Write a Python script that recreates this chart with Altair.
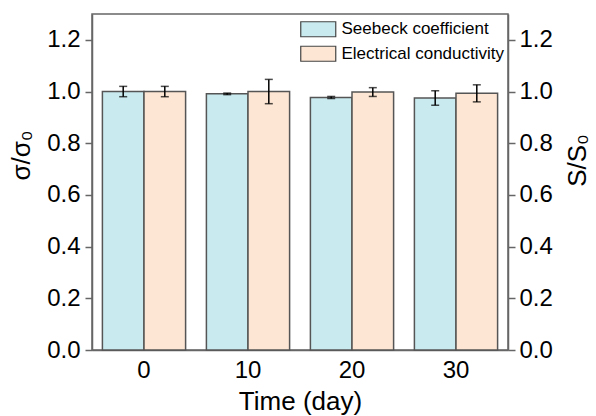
import altair as alt
import pandas as pd

times = ["0", "10", "20", "30"]
series = ["Seebeck coefficient", "Electrical conductivity"]
seebeck_vals = [1.000, 0.991, 0.977, 0.975]
seebeck_errs = [0.020, 0.003, 0.004, 0.028]
elec_vals = [1.000, 1.000, 0.998, 0.993]
elec_errs = [0.020, 0.047, 0.017, 0.033]
colors = ["#C9EAEF", "#FDE6D3"]
ytick_vals = [0.0, 0.2, 0.4, 0.6, 0.8, 1.0, 1.2]

rows = []
for name, vals, errs in [(series[0], seebeck_vals, seebeck_errs), (series[1], elec_vals, elec_errs)]:
    for t, v, e in zip(times, vals, errs):
        rows.append(dict(time=t, series=name, value=v, lo=v - e, hi=v + e))
df = pd.DataFrame(rows)

FONT = "Liberation Sans"
ysc = alt.Scale(domain=[0, 1.3], nice=False, zero=True)

xenc = alt.X(
    "time:N", sort=times,
    scale=alt.Scale(paddingInner=0.2, paddingOuter=0.1),
    axis=alt.Axis(title="Time (day)", labelAngle=0, ticks=False, labelFontSize=24,
                  labelPadding=8, titleFontSize=26, titlePadding=6, titleFontWeight="normal",
                  domainColor="#666", domainWidth=1.5, labelColor="black", titleColor="black"),
)
xoff = alt.XOffset("series:N", sort=series, scale=alt.Scale(paddingInner=0, paddingOuter=0))

left_axis = alt.Axis(
    orient="left", values=ytick_vals, format=".1f", tickSize=7, tickWidth=1.5, tickColor="#666",
    domainColor="#666", domainWidth=1.5, labelFontSize=24, labelPadding=5, labelColor="black",
    grid=False, title="σ/σ₀", titleFontSize=26, titleFontWeight="normal", titleColor="black",
    titleAngle=270, titleX=-71, titleY=141, titleAlign="center", titleBaseline="middle",
)
right_axis = alt.Axis(
    orient="right", values=ytick_vals, format=".1f", tickSize=7, tickWidth=1.5, tickColor="#666",
    domainColor="#666", domainWidth=1.5, labelFontSize=24, labelPadding=4, labelColor="black",
    grid=False, title="S/S₀", titleFontSize=26, titleFontWeight="normal", titleColor="black",
    titleAngle=270, titleX=69, titleY=146, titleAlign="center", titleBaseline="middle",
)

base = alt.Chart(df)

bars = base.mark_bar(stroke="#555", strokeWidth=1.5).encode(
    x=xenc, xOffset=xoff,
    y=alt.Y("value:Q", scale=ysc, stack=None, axis=left_axis),
    color=alt.Color(
        "series:N", sort=series,
        scale=alt.Scale(domain=series, range=colors),
        legend=alt.Legend(
            orient="none", legendX=216.75, legendY=5.75, title=None, padding=0,
            symbolType="M-2,-0.857H2V0.857H-2Z", symbolSize=306.25,
            symbolStrokeColor="#444", symbolStrokeWidth=1.2, symbolOpacity=1,
            labelFontSize=17, labelOffset=13.75, rowPadding=3.5, labelColor="black",
            labelLimit=300,
        ),
    ),
)

rules = base.mark_rule(color="black", strokeWidth=1.5).encode(
    x=xenc, xOffset=xoff,
    y=alt.Y("lo:Q", scale=ysc, axis=None),
    y2="hi:Q",
)

cap_lo = base.mark_tick(color="black", size=8, thickness=1.5, orient="horizontal").encode(
    x=xenc, xOffset=xoff,
    y=alt.Y("lo:Q", scale=ysc, axis=None),
)
cap_hi = base.mark_tick(color="black", size=8, thickness=1.5, orient="horizontal").encode(
    x=xenc, xOffset=xoff,
    y=alt.Y("hi:Q", scale=ysc, axis=right_axis),
)

chart = (
    alt.layer(bars, rules, cap_lo, cap_hi)
    .resolve_scale(y="independent")
    .properties(
        width=416, height=336,
        autosize=alt.AutoSizeParams(type="none"),
        padding={"left": 92, "top": 14, "right": 88, "bottom": 66},
    )
    .configure(font=FONT)
    .configure_view(stroke="#666", strokeWidth=1.5)
)

chart.save("out.html", embed_options={"renderer": "svg", "actions": False})
